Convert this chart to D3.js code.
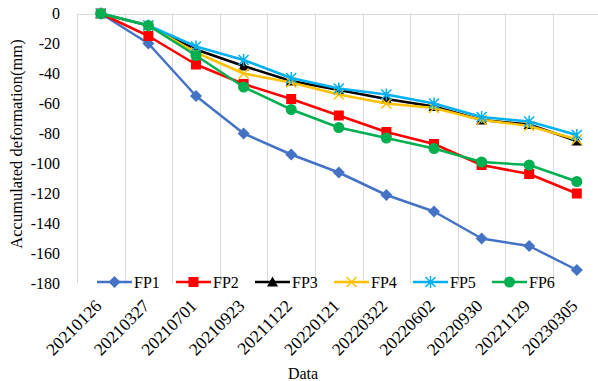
<!DOCTYPE html>
<html>
<head>
<meta charset="utf-8">
<script src="https://cdn.jsdelivr.net/npm/d3@7"></script>
<style>
  body { margin: 0; background: #fff; }
  text { font-family: "Liberation Serif", "Times New Roman", serif; fill: #000; }
</style>
</head>
<body>
<div id="chart"></div>
<script>
// Accumulated deformation chart
(function () {
  ///////////////////////////////////////////////////////////// ! Data
  const dates = [
    "20210126", "20210327", "20210701", "20210923", "20211122", "20220121",
    "20220322", "20220602", "20220930", "20221129", "20230305",
  ];
  const fp1 = [0, -20, -55, -80, -94, -106, -121, -132, -150, -155, -171];
  const fp2 = [0, -15, -34, -47, -57, -68, -79, -87, -101, -107, -120];
  const fp3 = [0, -8, -24, -35, -45, -51, -57, -62, -71, -74, -85];
  const fp4 = [0, -8, -26, -40, -46, -54, -60, -63, -71, -75, -84];
  const fp5 = [0, -8, -22, -31, -43, -50, -54, -60, -69, -72, -81];
  const fp6 = [0, -8, -28, -49, -64, -76, -83, -90, -99, -101, -112];
  const yTicks = [0, -20, -40, -60, -80, -100, -120, -140, -160, -180];

  const series = [
    { name: "FP1", values: fp1, color: "#4472C4", marker: "diamond" },
    { name: "FP2", values: fp2, color: "#FF0000", marker: "square" },
    { name: "FP3", values: fp3, color: "#000000", marker: "triangle" },
    { name: "FP4", values: fp4, color: "#FFC000", marker: "cross" },
    { name: "FP5", values: fp5, color: "#00B0F0", marker: "star" },
    { name: "FP6", values: fp6, color: "#00B050", marker: "circle" },
  ];

  ///////////////////////////////////////////////////////////// ! Setup
  const W = 598, H = 381;
  const plot = { left: 77, right: 600.6, top: 13.5, bottom: 283.5 };

  const svg = d3.select("#chart").append("svg")
    .attr("width", W).attr("height", H)
    .style("display", "block");

  const x = d3.scaleBand().domain(dates).range([plot.left, plot.right]);
  const y = d3.scaleLinear().domain([0, -180]).range([plot.top, plot.bottom]);

  ///////////////////////////////////////////////////////////// ! Grid and axes
  svg.append("g").selectAll("line")
    .data(dates)
    .join("line")
    .attr("x1", (d) => Math.round(x(d)) + 0.5)
    .attr("x2", (d) => Math.round(x(d)) + 0.5)
    .attr("y1", plot.top)
    .attr("y2", plot.bottom)
    .attr("stroke", "#d9d9d9")
    .attr("stroke-width", 1);

  // category axis line sits at zero (top)
  svg.append("line")
    .attr("x1", plot.left).attr("x2", plot.right)
    .attr("y1", Math.round(y(0)) + 0.5).attr("y2", Math.round(y(0)) + 0.5)
    .attr("stroke", "#d9d9d9").attr("stroke-width", 1);

  // y tick labels
  svg.append("g").selectAll("text")
    .data(yTicks)
    .join("text")
    .attr("x", 60)
    .attr("y", (d) => y(d))
    .attr("dy", "0.35em")
    .attr("text-anchor", "end")
    .style("font-size", "16px")
    .text((d) => (d < 0 ? "-" + Math.abs(d) : d));

  // x tick labels, rotated
  svg.append("g").selectAll("text")
    .data(dates)
    .join("text")
    .attr("transform", (d) => `translate(${x(d) + x.bandwidth() / 2 + 2},${307}) rotate(-45)`)
    .attr("text-anchor", "end")
    .style("font-size", "17.5px")
    .text((d) => d);

  // axis titles
  svg.append("text")
    .attr("x", 303).attr("y", 379)
    .attr("text-anchor", "middle")
    .style("font-size", "16px")
    .text("Data");

  svg.append("text")
    .attr("transform", "translate(22,144) rotate(-90)")
    .attr("text-anchor", "middle")
    .style("font-size", "16.5px")
    .text("Accumulated deformation(mm)");

  ///////////////////////////////////////////////////////////// ! Markers
  function drawMarker(g, type, color) {
    if (type === "diamond") {
      g.append("path").attr("d", "M0,-6L6,0L0,6L-6,0Z").attr("fill", color);
    } else if (type === "square") {
      g.append("rect").attr("x", -5).attr("y", -5).attr("width", 10).attr("height", 10).attr("fill", color);
    } else if (type === "triangle") {
      g.append("path").attr("d", "M0,-5.5L5.5,4.5L-5.5,4.5Z").attr("fill", color);
    } else if (type === "circle") {
      g.append("circle").attr("r", 5.5).attr("fill", color);
    } else if (type === "cross") {
      g.append("path").attr("d", "M-5,-5L5,5M-5,5L5,-5")
        .attr("stroke", color).attr("stroke-width", 1.5).attr("fill", "none");
    } else if (type === "star") {
      g.append("path").attr("d", "M-5,-5L5,5M-5,5L5,-5M0,-6L0,6")
        .attr("stroke", color).attr("stroke-width", 1.5).attr("fill", "none");
    }
  }

  ///////////////////////////////////////////////////////////// ! Lines
  const cx = (i) => x(dates[i]) + x.bandwidth() / 2;
  const line = d3.line().x((d, i) => cx(i)).y((d) => y(d));

  series.forEach((s) => {
    const g = svg.append("g");
    g.append("path")
      .attr("d", line(s.values))
      .attr("fill", "none")
      .attr("stroke", s.color)
      .attr("stroke-width", 2.5)
      .attr("stroke-linejoin", "round");
    s.values.forEach((v, i) => {
      drawMarker(g.append("g").attr("transform", `translate(${cx(i)},${y(v)})`), s.marker, s.color);
    });
  });

  ///////////////////////////////////////////////////////////// ! Legend
  const legend = svg.append("g");
  series.forEach((s, i) => {
    const lx = 97 + i * 79;
    const ly = 282;
    const item = legend.append("g");
    item.append("line")
      .attr("x1", lx).attr("x2", lx + 35)
      .attr("y1", ly).attr("y2", ly)
      .attr("stroke", s.color).attr("stroke-width", 2.5);
    drawMarker(item.append("g").attr("transform", `translate(${lx + 17.5},${ly})`), s.marker, s.color);
    item.append("text")
      .attr("x", lx + 37).attr("y", ly)
      .attr("dy", "0.35em")
      .style("font-size", "16px")
      .text(s.name);
  });
})();
</script>
</body>
</html>
